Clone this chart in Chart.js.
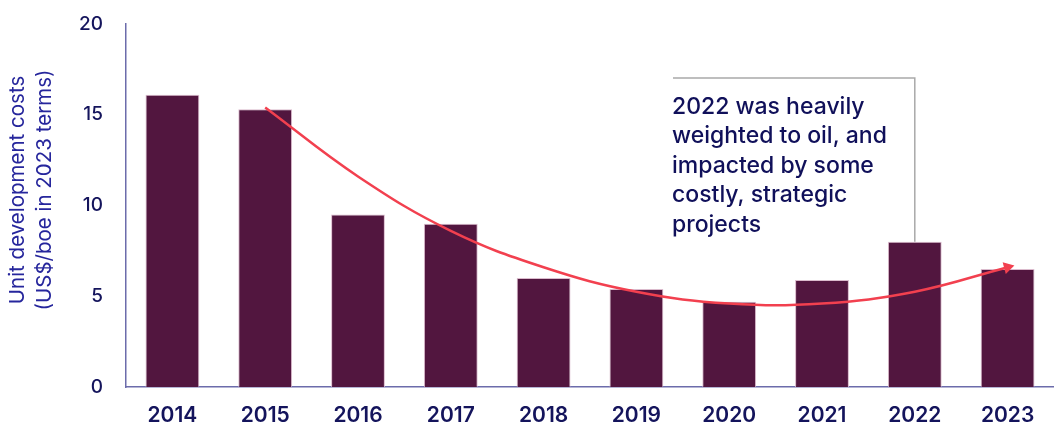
<!DOCTYPE html>
<html>
<head>
<meta charset="utf-8">
<script src="https://cdn.jsdelivr.net/npm/chart.js@4.4.1/dist/chart.umd.min.js"></script>
<style>
  html, body { margin: 0; padding: 0; background: #ffffff; overflow: hidden; }
  #cost-chart { display: block; }
</style>
</head>
<body>
<canvas id="cost-chart" width="1054" height="428"></canvas>
<script>
// --- Data ---
const years = ['2014', '2015', '2016', '2017', '2018', '2019', '2020', '2021', '2022', '2023'];
const unitCosts = [16.1, 15.3, 9.5, 9.0, 6.0, 5.4, 4.7, 5.9, 8.0, 6.5];
const trendLine = [null, 15.4, 11.6, 8.6, 6.6, 5.25, 4.6, 4.6, 5.25, 6.6];
const yTicks = [0, 5, 10, 15, 20];
const yTitle = ['Unit development costs', '(US$/boe in 2023 terms)'];
const noteLines = ['2022 was heavily', 'weighted to oil, and', 'impacted by some', 'costly, strategic', 'projects'];
const noteYear = '2022';

const navy = '#14145c';
const axisColor = '#6c6cab';
const fontFamily = 'Inter, "Noto Sans", sans-serif';

// callout box for the 2022 note, line anchored on the 2022 bar top
const calloutPlugin = {
    id: 'callout',
    afterDatasetsDraw(chart) {
        const c = chart.ctx;
        const idx = years.indexOf(noteYear);
        const bar = chart.getDatasetMeta(1).data[idx];
        if (!bar) return;
        const lineY = 78;
        c.save();
        c.strokeStyle = '#a9a9a9';
        c.lineWidth = 1.5;
        c.beginPath();
        c.moveTo(673, lineY);
        c.lineTo(bar.x, lineY);
        c.lineTo(bar.x, bar.y);
        c.stroke();

        c.fillStyle = '#10105a';
        c.font = '500 23px ' + fontFamily;
        c.textBaseline = 'middle';
        c.textAlign = 'left';
        noteLines.forEach((line, i) => {
            c.fillText(line, 672, 107 + i * 29.5);
        });
        c.restore();
    }
};

// y axis title, two lines rotated
const yTitlePlugin = {
    id: 'yTitle',
    afterDraw(chart) {
        const c = chart.ctx;
        c.save();
        c.translate(31, 190);
        c.rotate(-Math.PI / 2);
        c.fillStyle = '#26269c';
        c.font = '400 20.5px ' + fontFamily;
        c.textAlign = 'center';
        c.textBaseline = 'middle';
        yTitle.forEach((line, i) => {
            c.fillText(line, 0, (i - (yTitle.length - 1) / 2) * 27);
        });
        c.restore();
    }
};

const ctx = document.getElementById('cost-chart');

new Chart(ctx, {
    data: {
        labels: years,
        datasets: [{
            type: 'line',
            label: 'Trend',
            data: trendLine,
            borderColor: '#f2404f',
            backgroundColor: '#f2404f',
            borderWidth: 2.5,
            tension: 0.4,
            fill: false,
            clip: false,
            pointStyle: 'triangle',
            pointRadius: (c) => c.dataIndex === years.length - 1 ? 7 : 0,
            pointRotation: 75,
            pointBorderWidth: 0,
            order: 0
        }, {
            type: 'bar',
            label: 'Unit development costs',
            data: unitCosts,
            backgroundColor: '#52163f',
            borderColor: 'rgba(215, 180, 200, 0.9)',
            borderWidth: 1,
            barPercentage: 0.58,
            categoryPercentage: 1.0,
            order: 1
        }]
    },
    options: {
        responsive: false,
        animation: false,
        devicePixelRatio: 1,
        layout: { autoPadding: false, padding: { top: 24, right: 0, left: 0, bottom: 0 } },
        plugins: {
            legend: { display: false },
            tooltip: { enabled: false }
        },
        scales: {
            x: {
                grid: { display: false, drawTicks: false },
                border: { display: true, color: axisColor, width: 1.5 },
                ticks: {
                    color: navy,
                    padding: 16,
                    font: { family: fontFamily, size: 21, weight: '600' }
                },
                afterFit: (scale) => {
                    scale.height = 41;
                    scale.paddingRight = 0;
                    scale.paddingLeft = 0;
                }
            },
            y: {
                min: 0,
                max: 20,
                grid: { display: false, drawTicks: false },
                border: { display: true, color: axisColor, width: 1.5 },
                afterBuildTicks: (scale) => { scale.ticks = yTicks.map(v => ({ value: v })); },
                ticks: {
                    color: navy,
                    padding: 23,
                    font: { family: fontFamily, size: 19, weight: '500' }
                },
                afterFit: (scale) => {
                    scale.width = 126;
                    scale.paddingTop = 0;
                    scale.paddingBottom = 0;
                }
            }
        }
    },
    plugins: [calloutPlugin, yTitlePlugin]
});
</script>
</body>
</html>
